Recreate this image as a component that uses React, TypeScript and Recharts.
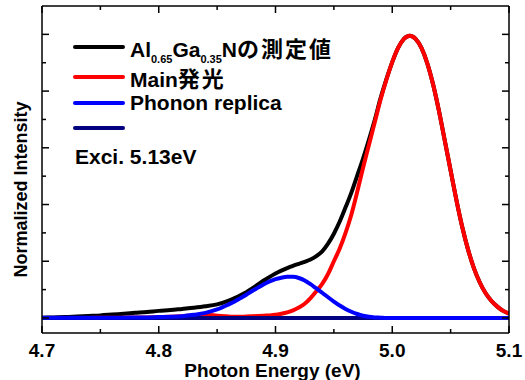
import { LineChart, Line, XAxis, YAxis, Legend } from 'recharts';

// photon energy (eV)
const energy = [
  4.70, 4.71, 4.72, 4.73, 4.74, 4.75, 4.76, 4.77, 4.78, 4.79, 4.80, 4.81, 4.82, 4.83, 4.84, 4.85, 4.86,
  4.865, 4.87, 4.875, 4.88, 4.885, 4.89, 4.895, 4.90, 4.905, 4.91, 4.915, 4.92, 4.925, 4.93, 4.935, 4.94,
  4.945, 4.95, 4.955, 4.96, 4.965, 4.97, 4.975, 4.98, 4.985, 4.99, 4.995, 5.00, 5.005, 5.01, 5.015, 5.02,
  5.025, 5.03, 5.035, 5.04, 5.045, 5.05, 5.055, 5.06, 5.065, 5.07, 5.075, 5.08, 5.085, 5.09, 5.095, 5.10,
];

// AlGaN measured spectrum (black)
const measured = [
  0.001, 0.002, 0.003, 0.005, 0.007, 0.009, 0.012, 0.015, 0.018, 0.021, 0.025, 0.028, 0.032, 0.036, 0.041, 0.048, 0.061,
  0.07, 0.08, 0.091, 0.104, 0.118, 0.132, 0.145, 0.157, 0.167, 0.176, 0.184, 0.191, 0.198, 0.206, 0.218, 0.235,
  0.262, 0.297, 0.34, 0.39, 0.442, 0.502, 0.562, 0.628, 0.698, 0.775, 0.842, 0.902, 0.952, 0.984, 0.995, 0.984,
  0.952, 0.898, 0.823, 0.73, 0.625, 0.52, 0.415, 0.32, 0.24, 0.175, 0.125, 0.087, 0.06, 0.04, 0.025, 0.015,
];

// main emission (red)
const mainPeak = [
  0, 0, 0, 0, 0, 0.001, 0.001, 0.001, 0.002, 0.002, 0.003, 0.004, 0.006, 0.009, 0.011, 0.008, 0.005,
  0.004, 0.004, 0.005, 0.006, 0.007, 0.008, 0.009, 0.011, 0.015, 0.02, 0.027, 0.037, 0.05, 0.07, 0.094, 0.12,
  0.155, 0.2, 0.245, 0.3, 0.365, 0.445, 0.53, 0.61, 0.69, 0.77, 0.84, 0.902, 0.952, 0.984, 0.995, 0.984,
  0.952, 0.898, 0.823, 0.73, 0.625, 0.52, 0.415, 0.32, 0.24, 0.175, 0.125, 0.087, 0.06, 0.04, 0.025, 0.015,
];

// phonon replica (blue)
const phonon = [
  0.001, 0.001, 0.001, 0.001, 0.001, 0.001, 0.001, 0.001, 0.002, 0.002, 0.003, 0.004, 0.006, 0.011, 0.018, 0.03, 0.048,
  0.058, 0.07, 0.082, 0.095, 0.107, 0.119, 0.129, 0.137, 0.142, 0.145, 0.145, 0.141, 0.132, 0.119, 0.104, 0.089,
  0.073, 0.058, 0.044, 0.032, 0.022, 0.014, 0.008, 0.004, 0.002, 0.001, 0, 0, 0, 0, 0, 0,
  0, 0, 0, 0, 0, 0, 0, 0, 0, 0, 0, 0, 0, 0, 0, 0,
];

// unnamed navy baseline
const baseLevel = 0;

const xTicks = [4.7, 4.75, 4.8, 4.85, 4.9, 4.95, 5.0, 5.05, 5.1];
const yTicks = [0, 0.1, 0.2, 0.3, 0.4, 0.5, 0.6, 0.7, 0.8, 0.9, 1.0];

const data = energy.map((e, i) => ({
  e,
  measured: measured[i],
  main: mainPeak[i],
  phonon: phonon[i],
  base: baseLevel,
}));

const FONT = '"Liberation Sans", Arial, "Noto Sans CJK JP", sans-serif';
const cjk = { fontFamily: '"Noto Sans CJK JP", sans-serif', fontSize: 22, letterSpacing: 2 };
const sub = { fontSize: 11, lineHeight: 1, position: 'relative' as const, top: 6 };

const legendRows = [
  { color: '#000000', h: 28, label: <>Al<span style={sub}>0.65</span>Ga<span style={sub}>0.35</span>N<span style={cjk}>の測定値</span></> },
  { color: '#ff0000', h: 32, label: <>Main<span style={cjk}>発光</span></> },
  { color: '#0000ff', h: 20, label: <>Phonon replica</> },
  { color: '#000080', h: 30, label: null },
];

const isMajorX = (v: number) => Math.abs(v * 10 - Math.round(v * 10)) < 1e-6;
const isMajorY = (v: number) => Math.abs(v * 5 - Math.round(v * 5)) < 1e-6;

const BottomTick = ({ x, y, payload }: any) => {
  const major = isMajorX(payload.value);
  return (
    <g>
      <line x1={x} x2={x} y1={y} y2={y - (major ? 7 : 4)} stroke="#000" strokeWidth={1.5} />
      {major && (
        <text x={x} y={y + 24} textAnchor="middle" fontFamily={FONT} fontWeight="bold" fontSize={19} fill="#000">
          {payload.value.toFixed(1)}
        </text>
      )}
    </g>
  );
};

const TopTick = ({ x, y, payload }: any) => (
  <line x1={x} x2={x} y1={y} y2={y + (isMajorX(payload.value) ? 7 : 4)} stroke="#000" strokeWidth={1.5} />
);

const LeftTick = ({ x, y, payload }: any) => (
  <line x1={x} x2={x + (isMajorY(payload.value) ? 7 : 4)} y1={y} y2={y} stroke="#000" strokeWidth={1.5} />
);

const RightTick = ({ x, y, payload }: any) => (
  <line x1={x} x2={x - (isMajorY(payload.value) ? 7 : 4)} y1={y} y2={y} stroke="#000" strokeWidth={1.5} />
);

const xTitle = ({ viewBox }: any) => (
  <text x={viewBox.x + viewBox.width / 2 - 3} y={viewBox.y + 44} textAnchor="middle" fontFamily={FONT} fontWeight="bold" fontSize={19} fill="#000">
    Photon Energy (eV)
  </text>
);

const yTitle = ({ viewBox }: any) => (
  <text transform={`translate(${viewBox.x - 14}, ${viewBox.y + viewBox.height / 2 + 20}) rotate(-90)`} textAnchor="middle" fontFamily={FONT} fontWeight="bold" fontSize={18} fill="#000">
    Normalized Intensity
  </text>
);

const renderLegend = () => (
  <div style={{ fontFamily: FONT, fontWeight: 'bold', fontSize: 21, color: '#000' }}>
    {legendRows.map((r, i) => (
      <div key={i} style={{ height: r.h, display: 'flex', alignItems: 'center', whiteSpace: 'nowrap' }}>
        <div style={{ width: 52, height: 4, borderRadius: 2, background: r.color, marginRight: 5 }} />
        <span>{r.label}</span>
      </div>
    ))}
    <div style={{ height: 28, display: 'flex', alignItems: 'center', paddingLeft: 2 }}>Exci. 5.13eV</div>
  </div>
);

const axisLine = { stroke: '#000', strokeWidth: 1.5 };

export default function App() {
  return (
    <div style={{ position: 'absolute', left: 0, top: 0, width: 525, height: 380, background: '#fff' }}>
      <LineChart width={525} height={380} data={data} margin={{ top: 5, right: 15, bottom: 46, left: 41 }}>
        <XAxis dataKey="e" type="number" domain={[4.7, 5.1]} ticks={xTicks} interval={0} height={1}
          tickSize={0} tickMargin={0} tickLine={false} axisLine={axisLine} tick={BottomTick} allowDataOverflow label={xTitle} />
        <XAxis xAxisId="t" orientation="top" dataKey="e" type="number" domain={[4.7, 5.1]} ticks={xTicks} interval={0} height={1}
          tickSize={0} tickMargin={0} tickLine={false} axisLine={axisLine} tick={TopTick} allowDataOverflow />
        <YAxis type="number" domain={[-0.053, 1.1]} ticks={yTicks} interval={0} width={1}
          tickSize={0} tickMargin={0} tickLine={false} axisLine={axisLine} tick={LeftTick} allowDataOverflow label={yTitle} />
        <YAxis yAxisId="r" orientation="right" type="number" domain={[-0.053, 1.1]} ticks={yTicks} interval={0} width={1}
          tickSize={0} tickMargin={0} tickLine={false} axisLine={axisLine} tick={RightTick} allowDataOverflow />
        <Legend content={renderLegend} layout="vertical" align="center" verticalAlign="middle"
          wrapperStyle={{ left: 73, top: 33, width: 340, height: 'auto' }} />
        <Line type="monotone" dataKey="measured" stroke="#000000" strokeWidth={4} dot={false} isAnimationActive={false} />
        <Line type="monotone" dataKey="main" stroke="#ff0000" strokeWidth={4} dot={false} isAnimationActive={false} />
        <Line type="monotone" dataKey="base" stroke="#000080" strokeWidth={4} dot={false} isAnimationActive={false} />
        <Line type="monotone" dataKey="phonon" stroke="#0000ff" strokeWidth={4} dot={false} isAnimationActive={false} />
      </LineChart>
    </div>
  );
}
